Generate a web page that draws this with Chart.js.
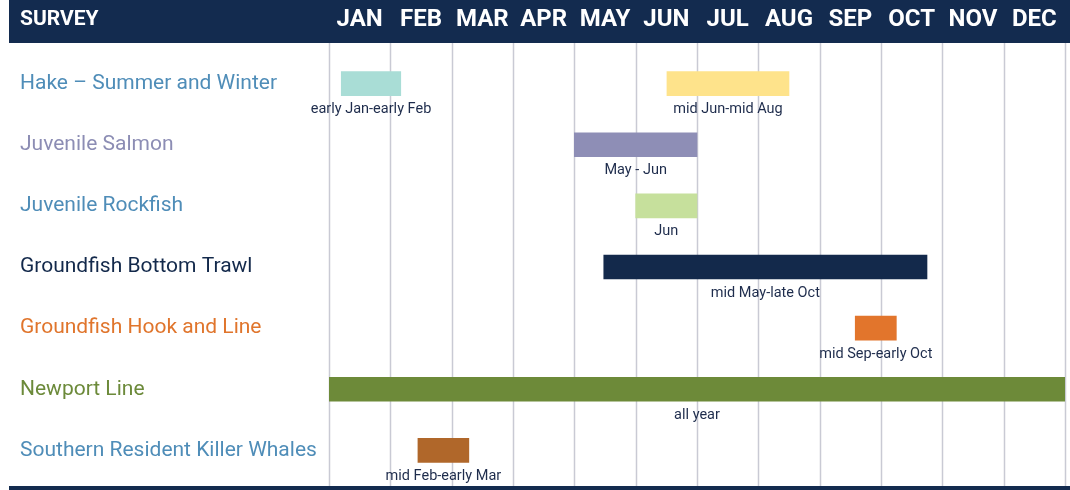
<!DOCTYPE html>
<html>
<head>
<meta charset="utf-8">
<script src="https://cdn.jsdelivr.net/npm/chart.js@4/dist/chart.umd.min.js"></script>
<style>
  html, body { margin: 0; padding: 0; background: #ffffff; }
  #wrap { width: 1070px; height: 490px; position: relative; }
</style>
</head>
<body>
<div id="wrap"><canvas id="c" width="1070" height="490"></canvas></div>
<script>
// ---- data ----
const categories = [
  'Hake – Summer and Winter',
  'Juvenile Salmon',
  'Juvenile Rockfish',
  'Groundfish Bottom Trawl',
  'Groundfish Hook and Line',
  'Newport Line',
  'Southern Resident Killer Whales'
];
const months = ['JAN','FEB','MAR','APR','MAY','JUN','JUL','AUG','SEP','OCT','NOV','DEC'];
// period in month units (0 = start of Jan, 12 = end of Dec)
const periodStart = [0.2, 4.0, 5.0, 4.48, 8.58, 0.0, 1.45];
const periodEnd   = [1.17, 6.0, 6.0, 9.75, 9.25, 12.0, 2.28];
const periodLabels = ['early Jan-early Feb', 'May - Jun', 'Jun', 'mid May-late Oct', 'mid Sep-early Oct', 'all year', 'mid Feb-early Mar'];
// second period (Hake summer)
const secondStart = [5.51, null, null, null, null, null, null];
const secondEnd   = [7.5, null, null, null, null, null, null];
const secondLabels = ['mid Jun-mid Aug', null, null, null, null, null, null];

const labelColors = ['#4f8db8', '#8c8db4', '#4f8db8', '#13294b', '#e0752c', '#6c8a3a', '#4f8db8'];
const barColors1 = ['#a9ddd6', '#8e8eb6', '#c6e09c', '#13294b', '#e2752c', '#6d8a39', '#b0672a'];
const barColors2 = ['#fee38b', null, null, null, null, null, null];

const NAVY = '#132b4f';
const FONT = 'Roboto, "Liberation Sans", sans-serif';

const toPairs = (s, e) => s.map((v, i) => (v === null ? null : [v, e[i]]));

const decorPlugin = {
  id: 'decor',
  beforeDraw(chart) {
    const ctx = chart.ctx;
    ctx.save();
    ctx.fillStyle = '#ffffff';
    ctx.fillRect(0, 0, chart.width, chart.height);
    ctx.fillStyle = NAVY;
    ctx.fillRect(9, 0, chart.width - 9, 43);
    ctx.fillRect(9, 486, chart.width - 9, 4);
    ctx.fillStyle = '#ffffff';
    ctx.font = 'bold 21px ' + FONT;
    ctx.textAlign = 'left';
    ctx.textBaseline = 'middle';
    ctx.fillText('SURVEY', 20, 20);
    ctx.restore();
  },
  beforeDatasetsDraw(chart) {
    const ctx = chart.ctx;
    const x = chart.scales.x;
    ctx.save();
    ctx.strokeStyle = '#c9cad4';
    ctx.lineWidth = 1.5;
    for (let i = 0; i <= months.length; i++) {
      const px = Math.round(x.getPixelForValue(i)) + 0.5;
      ctx.beginPath();
      ctx.moveTo(px, 43);
      ctx.lineTo(px, 486);
      ctx.stroke();
    }
    ctx.restore();
  },
  afterDatasetsDraw(chart) {
    const ctx = chart.ctx;
    ctx.save();
    ctx.fillStyle = '#1e2c4c';
    ctx.font = '14.5px ' + FONT;
    ctx.textAlign = 'center';
    ctx.textBaseline = 'middle';
    chart.data.datasets.forEach((ds, di) => {
      const meta = chart.getDatasetMeta(di);
      meta.data.forEach((el, i) => {
        const txt = ds.periodText[i];
        if (!txt || ds.data[i] === null) return;
        const cx = (el.x + el.base) / 2;
        const cy = el.y + el.height / 2 + 14;
        ctx.fillText(txt, cx, cy);
      });
    });
    ctx.restore();
  }
};

new Chart(document.getElementById('c'), {
  type: 'bar',
  data: {
    labels: categories,
    datasets: [
      {
        data: toPairs(periodStart, periodEnd),
        periodText: periodLabels,
        backgroundColor: barColors1,
        grouped: false,
        barThickness: 24,
        borderWidth: 0
      },
      {
        data: toPairs(secondStart, secondEnd),
        periodText: secondLabels,
        backgroundColor: barColors2,
        grouped: false,
        barThickness: 24,
        borderWidth: 0
      }
    ]
  },
  options: {
    indexAxis: 'y',
    responsive: false,
    animation: false,
    devicePixelRatio: 1,
    layout: { padding: { left: 20, right: 5, top: 0, bottom: 9 } },
    plugins: { legend: { display: false }, tooltip: { enabled: false } },
    scales: {
      x: {
        type: 'linear',
        position: 'top',
        min: 0,
        max: 12,
        grid: { display: false, drawTicks: false },
        border: { display: false },
        afterBuildTicks(scale) {
          scale.ticks = months.map((m, i) => ({ value: i + 0.5 }));
        },
        afterFit(scale) {
          scale.height = 53;
          scale.paddingLeft = 0;
          scale.paddingRight = 0;
        },
        ticks: {
          autoSkip: false,
          maxRotation: 0,
          padding: 19,
          color: '#ffffff',
          font: { family: FONT, size: 24, weight: 'bold' },
          callback: (v, i) => months[i]
        }
      },
      y: {
        type: 'category',
        grid: { display: false, drawTicks: false },
        border: { display: false },
        afterFit(scale) {
          scale.width = 309;
          scale.paddingTop = 0;
          scale.paddingBottom = 0;
        },
        ticks: {
          crossAlign: 'far',
          padding: 0,
          color: labelColors,
          font: { family: FONT, size: 21 }
        }
      }
    }
  },
  plugins: [decorPlugin]
});
</script>
</body>
</html>
